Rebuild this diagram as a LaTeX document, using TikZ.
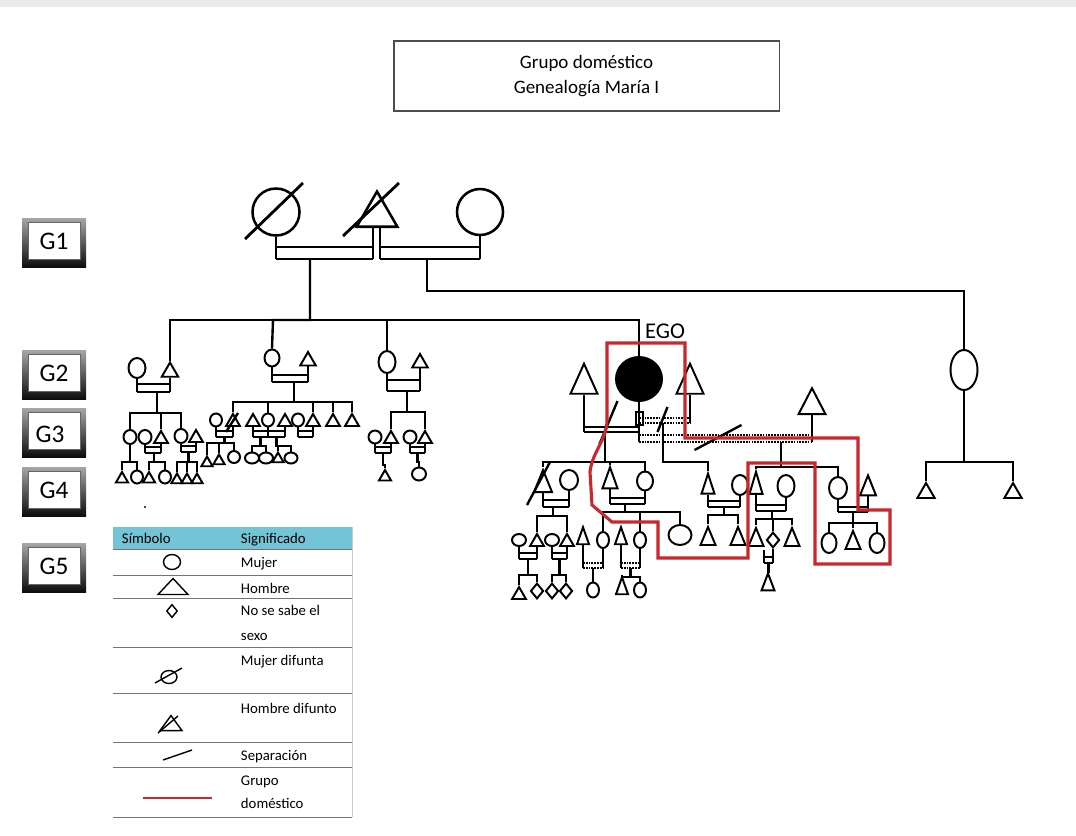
\documentclass[tikz,border=0pt]{standalone}
\usepackage{fontspec}
\setmainfont{Carlito}
\usetikzlibrary{calc,shapes.geometric}
\definecolor{hogar}{HTML}{C8282D}
\definecolor{cabecera}{HTML}{72C4D6}
\tikzset{fem/.style 2 args={ellipse,draw,inner sep=0pt,minimum width={#1*.025cm},minimum height={#2*.025cm}},
  mal/.style={regular polygon,regular polygon sides=3,draw,inner sep=0pt,minimum size={#1*.025cm}},
  malt/.style 2 args={isosceles triangle,isosceles triangle stretches,shape border rotate=90,draw,inner sep=0pt,minimum width={#1*.025cm},minimum height={#2*.025cm}},
  unk/.style={diamond,draw,inner sep=0pt,minimum width={#1*.025cm},minimum height={#1*.03cm}},unk/.default=12,
  cohab/.style={dash pattern=on 1.2pt off .8pt},
  gtag/.style={fill=white,draw=black!60,line width=.5pt,minimum width=1.3cm,minimum height=.92cm,font=\fontsize{18}{20}\selectfont},
  leyenda/.style={anchor=base west,inner sep=0pt,font=\fontsize{10.5}{12}\selectfont}}
\newcommand{\marr}[6][]{%
\draw (#3) -- (#3|-0,#5+#6) (#4) -- (#4|-0,#5+#6);
\draw[#1] (#3|-0,#5) -- (#4|-0,#5) (#3|-0,#5+#6) -- coordinate[midway] (#2) (#4|-0,#5+#6);}
\newcommand{\kids}[3]{\foreach \k in {#3}{\draw (#1) |- (\k.north|-0,#2) -- (\k.north);}}
\newcommand{\tacha}[3]{\draw ($(#1)+(#2)$) -- ($(#1)+(#3)$);}
\begin{document}
\begin{tikzpicture}[x=.025cm,y=-.025cm,line width=1.7pt,every node/.style={line width=1.4pt}]
\useasboundingbox (0,0) rectangle (1076,835);
\fill[black!8] (0,0) rectangle (1076,7);
\node[draw=black!70,line width=.8pt,minimum width=9.625cm,minimum height=1.75cm,align=center,font=\fontsize{13.5}{17.7}\selectfont] (titulo) at (586.5,76) {Grupo doméstico\\Genealogía María I};
\foreach \g/\y/\dx/\dy in {1/242/0/0,2/374/0/0,3/432/-4/3,4/491/0/0,5/567/0/0}{
\shade[top color=black!35,bottom color=black!95] (22,\y-24) rectangle (86,\y+25);
\node[gtag] (g\g) at (54,\y-1) {};
\node (gt\g) at (54+\dx,\y-1+\dy) {\fontsize{18}{20}\selectfont G\g};}
\begin{scope}[line width=2pt]
\node[fem={47}{47},line width=1.8pt] (g1a) at (276,212) {};
\node[mal=47,line width=1.8pt] (g1b) at (377,215) {};
\node[fem={46}{46},line width=1.8pt] (g1c) at (480,212) {};
\tacha{g1a}{-31,27}{27,-29}
\tacha{g1b}{-34,21}{22,-32}
\coordinate (abl) at ($(g1b.south)+(-4,0)$);
\coordinate (abr) at ($(g1b.south)+(3,0)$);
\marr{ma}{g1a.south}{abl}{247}{12}
\marr{mb}{abr}{g1c.south}{247}{12}
\end{scope}
\node[fem={17}{20}] (l0) at (137,368) {};
\node[mal=19] (l1) at (170,372) {};
\node[fem={15}{17}] (b0) at (272,358) {};
\node[mal=18] (b1) at (308,361) {};
\node[fem={17}{22}] (d0) at (387,362) {};
\node[mal=18] (d1) at (420,363) {};
\node[fem={46}{44},fill=black] (ego) at (639,379) {};
\node[malt={27}{30}] (h1) at (584,385) {};
\node[malt={27}{30}] (h2) at (690,385) {};
\node[malt={27}{26}] (h3) at (812,406) {};
\node[fem={27}{40}] (r0) at (964,370) {};
\node[font=\fontsize{16}{18}\selectfont] (egotxt) at (665,331) {EGO};
\coordinate (b0top) at (273,320);
\kids{310,0|-ma}{320}{l1,d0,ego}
\draw (310,0|-ma) |- (b0top) -- (b0.north);
\kids{427,0|-mb}{291}{r0}
\marr{ml}{l0.south}{l1.south}{384}{8}
\marr{mbb}{b0.south}{b1.south}{375}{7}
\marr{md}{d0.south}{d1.south}{380}{11}
\node[fem={13}{14}] (l2) at (130,437) {};
\node[fem={13}{14}] (l3w) at (145,437) {};
\node[mal=16] (l3) at (161,439) {};
\node[fem={13}{14}] (l4) at (181,436) {};
\node[mal=16] (l4h) at (196,438) {};
\kids{157,0|-ml}{413}{l2,l3,l4}
\marr{ml3}{l3w.south}{l3.south}{447}{6}
\marr{ml4}{l4.south}{l4h.south}{446}{6}
\node[mal=14] (l2a) at (122,479) {};
\node[fem={12}{13}] (l2b) at (137,477) {};
\node[mal=14] (l3a) at (149,479) {};
\node[fem={12}{13}] (l3b) at (165,477) {};
\node[mal=13] (l4a) at (177,480) {};
\node[mal=13] (l4b) at (187,480) {};
\node[mal=13] (l4c) at (197,480) {};
\kids{l2.south}{462}{l2a,l2b}
\kids{154,0|-ml3}{462}{l3a,l3b}
\kids{ml4}{462}{l4a,l4b,l4c}
\node[fem={12}{13}] (b2w) at (216,420) {};
\node[mal=16] (b2) at (233,422) {};
\node[mal=16] (b3h) at (253,422) {};
\node[fem={12}{13}] (b3) at (268,420) {};
\node[mal=16] (b3k) at (285,422) {};
\node[fem={12}{13}] (b4w) at (298,420) {};
\node[mal=16] (b4) at (313,422) {};
\node[mal=16] (b5) at (333,422) {};
\node[mal=16] (b6) at (352,422) {};
\kids{294,0|-mbb}{402}{b2,b3,b4,b5,b6}
\marr{mb2}{b2w.south}{b2.south}{431}{6}
\tacha{b2}{-7,10}{5,-9}
\marr{mb3}{b3h.south}{b3.south}{431}{6}
\marr{mb3k}{b3.south}{b3k.south}{431}{6}
\marr{mb4}{b4w.south}{b4.south}{431}{6}
\node[mal=13] (b2a) at (207,463) {};
\node[mal=13] (b2b) at (219,461) {};
\node[fem={12}{12}] (b2c) at (234,457) {};
\kids{mb2}{443}{b2a,b2b,b2c}
\node[fem={14}{11}] (b3a) at (252,458) {};
\node[fem={14}{11}] (b3b) at (266,458) {};
\node[mal=13] (b3c) at (278,459) {};
\node[fem={13}{11}] (b3d) at (291,458) {};
\kids{mb3}{446}{b3a,b3b}
\kids{mb3k}{446}{b3c,b3d}
\node[fem={13}{13}] (d2w) at (375,437) {};
\node[mal=16] (d2) at (391,439) {};
\node[fem={13}{13}] (d3w) at (410,437) {};
\node[mal=16] (d3) at (425,439) {};
\kids{407,0|-md}{412}{d2,d3}
\marr{md2}{d2w.south}{d2.south}{447}{6}
\marr{md3}{d3w.south}{d3.south}{447}{6}
\node[mal=14] (d2a) at (385,477) {};
\node[fem={14}{13}] (d3a) at (419,474) {};
\kids{md2}{465}{d2a}
\kids{md3}{462}{d3a}
\marr{e1}{h1.south}{ego.south}{427}{5}
\marr[cohab]{e2}{ego.south}{h2.south}{418}{5}
\marr[cohab]{e3}{ego.south}{h3.south}{435}{7}
\draw[line width=1pt] (636,412) rectangle (643,425);
\tacha{e1}{-12,12}{6,-31}
\tacha{e2}{-7,9}{3,-16}
\tacha{e3}{-31,8}{16,-17}
\node[malt={18}{22}] (k1) at (543,486) {};
\node[fem={18}{20}] (k1w) at (569,480) {};
\node[malt={15}{21}] (k2) at (610,483) {};
\node[fem={16}{19}] (k2w) at (645,481) {};
\kids{605,0|-e1}{462}{k1,k2,k2w}
\marr{mk1}{k1.south}{k1w.south}{500}{7}
\tacha{k1}{-16,19}{7,-24}
\marr{mk2}{k2.south}{k2w.south}{498}{6}
\node[fem={14}{12}] (k1aw) at (519,540) {};
\node[mal=16] (k1a) at (537,542) {};
\node[fem={14}{12}] (k1bw) at (552,540) {};
\node[mal=16] (k1b) at (567,542) {};
\kids{553,0|-mk1}{516}{k1a,k1b}
\marr{mk1a}{k1aw.south}{k1a.south}{553}{6}
\marr{mk1b}{k1bw.south}{k1b.south}{553}{6}
\node[mal=16] (k1a1) at (519,595) {};
\node[unk=13] (k1a2) at (537,591) {};
\node[unk=13] (k1b1) at (552,591) {};
\node[unk=13] (k1b2) at (566,591) {};
\kids{mk1a}{575}{k1a1,k1a2}
\kids{mk1b}{575}{k1b1,k1b2}
\node[malt={12}{17}] (p1h) at (583,540) {};
\node[fem={12}{16}] (p1) at (603,540) {};
\node[malt={12}{17}] (p2h) at (621,540) {};
\node[fem={12}{16}] (p2) at (640,540) {};
\node[fem={23}{20}] (p3) at (680,535) {};
\kids{625,0|-mk2}{512}{p1,p2,p3}
\marr[cohab]{mp1}{p1h.south}{p1.south}{563}{5}
\marr[cohab]{mp2}{p2h.south}{p2.south}{563}{5}
\node[fem={12}{15}] (p1a) at (593,590) {};
\node[malt={12}{17}] (p2a) at (622,590) {};
\node[fem={12}{15}] (p2b) at (640,590) {};
\kids{mp1}{575}{p1a}
\kids{mp2}{577}{p2a,p2b}
\node[malt={13}{20}] (j1) at (708,489) {};
\node[fem={16}{20}] (j1w) at (740,485) {};
\kids{663,0|-e2}{462}{j1}
\marr{mj1}{j1.south}{j1w.south}{501}{6}
\node[malt={15}{18}] (j1a) at (708,540) {};
\node[malt={15}{18}] (j1b) at (738,540) {};
\kids{724,0|-mj1}{515}{j1a,j1b}
\node[malt={13}{22}] (n1) at (756,489) {};
\node[fem={17}{22}] (n1w) at (786,486) {};
\node[fem={18}{22}] (n2) at (838,488) {};
\node[malt={16}{20}] (n2h) at (868,490) {};
\kids{781,0|-e3}{467}{n1,n2}
\marr{mn1}{n1.south}{n1w.south}{505}{6}
\marr{mn2}{n2.south}{n2h.south}{507}{5}
\node[malt={15}{18}] (n1a) at (756,541) {};
\node[unk=13] (n1b) at (773,540) {};
\node[malt={15}{18}] (n1c) at (792,541) {};
\kids{772,0|-mn1}{519}{n1a,n1b,n1c}
\coordinate (n1bl) at (764,550);
\marr{mn1b}{n1bl}{n1b.south}{557}{6}
\node[malt={13}{17}] (n1b1) at (768,586) {};
\kids{mn1b}{572}{n1b1}
\node[fem={15}{20}] (n2a) at (829,543) {};
\node[malt={15}{18}] (n2b) at (853,544) {};
\node[fem={15}{20}] (n2c) at (877,543) {};
\kids{853,0|-mn2}{523}{n2a,n2b,n2c}
\node[mal=20] (r1) at (926,493) {};
\node[mal=20] (r2) at (1013,493) {};
\kids{r0.south}{462}{r1,r2}
\draw[hogar,line width=2.2pt] (607,343) -- (685,343) -- (685,438) -- (858,438) -- (858,510) -- (890,510) -- (890,564) -- (815,564) -- (815,463) -- (748,463) -- (748,558) -- (658,558) -- (658,522) -- (612,522) -- (592,505) -- (590,472) .. controls (592,452) and (607,440) .. (607,420) -- cycle;
\fill (145,507) circle (1.2);
\fill[cabecera] (113,527) rectangle (352,549);
\foreach \y in {549,575,598,647,693,742,767,817} \draw[black!55,line width=.6pt] (113,\y) -- (352,\y);
\draw[black!20,line width=.5pt] (352,527) -- (352,817);
\node[leyenda] (th1) at (121,543) {Símbolo};
\node[leyenda] (th2) at (240,543) {Significado};
\begin{scope}[every node/.style={line width=1pt},line width=1pt]
\node[fem={17}{15}] (sy1) at (172,562) {};
\node[malt={30}{16}] (sy2) at (173,588) {};
\node[unk=11] (sy3) at (172,611) {};
\node[fem={16}{13}] (sy4) at (169,677) {};
\tacha{sy4}{-14,6}{13,-9}
\node[malt={22}{15}] (sy5) at (171,725) {};
\tacha{sy5}{-13,8}{7,-9}
\draw (163,760) -- (192,750);
\end{scope}
\draw[hogar,line width=2.1pt] (143,798) -- (212,798);
\node[leyenda] (tx1) at (240,567) {Mujer};
\node[leyenda] (tx2) at (240,593) {Hombre};
\node[leyenda] (tx3) at (240,615) {No se sabe el};
\node[leyenda] (tx3b) at (240,640) {sexo};
\node[leyenda] (tx4) at (240,665) {Mujer difunta};
\node[leyenda] (tx5) at (240,713) {Hombre difunto};
\node[leyenda] (tx6) at (240,760) {Separación};
\node[leyenda] (tx7) at (240,785) {Grupo};
\node[leyenda] (tx7b) at (240,808) {doméstico};
\end{tikzpicture}
\end{document}
